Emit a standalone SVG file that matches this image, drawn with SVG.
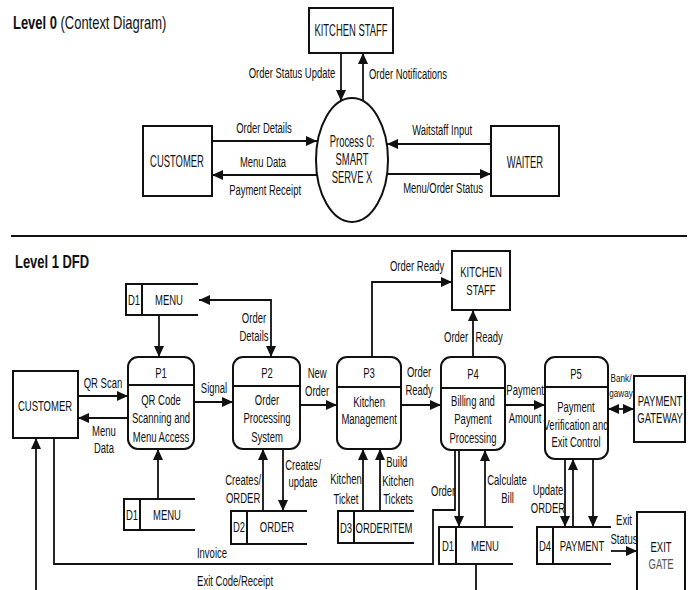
<svg xmlns="http://www.w3.org/2000/svg" width="691" height="590" viewBox="0 0 691 590">
<style>
  .box { fill: #fff; stroke: #111; stroke-width: 2; }
  .proc { fill: #fff; stroke: #111; stroke-width: 2; }
  .div { stroke: #111; stroke-width: 2; }
  .store { fill: none; stroke: #111; stroke-width: 2; }
  .c { fill: none; stroke: #111; stroke-width: 1.8; }
  .a { marker-end: url(#ah); }
  .aa { marker-start: url(#ah); marker-end: url(#ah); }
  text { font-family: "Liberation Sans", Arial, sans-serif; fill: #111; }
  .t { font-size: 15.5px; text-anchor: middle; transform-box: fill-box; transform-origin: center; transform: scaleX(0.613); }
  .l0 { font-size: 14.5px; text-anchor: middle; transform-box: fill-box; transform-origin: center; transform: scaleX(0.652); }
  .b0 { font-size: 16px; text-anchor: middle; transform-box: fill-box; transform-origin: center; transform: scaleX(0.59); }
  .s { font-size: 11.5px; text-anchor: middle; transform-box: fill-box; transform-origin: center; transform: scaleX(0.71); }
  .title { font-size: 18px; text-anchor: start; transform-box: fill-box; transform-origin: left center; transform: scaleX(0.72); }
</style>
<defs>
  <marker id="ah" markerUnits="userSpaceOnUse" markerWidth="12" markerHeight="10" refX="11" refY="5" orient="auto-start-reverse">
    <path d="M0,0 L11,5 L0,10 z" fill="#111"/>
  </marker>
</defs>
<rect width="691" height="590" fill="#fff"/>

<!-- ===== Level 0 ===== -->
<text class="title" x="13" y="29"><tspan font-weight="bold">Level 0</tspan> (Context Diagram)</text>

<g id="l0-kitchen">
  <rect class="box" x="309" y="8" width="84" height="45"/>
  <text class="b0" x="351" y="36">KITCHEN STAFF</text>
</g>
<g id="l0-customer">
  <rect class="box" x="143" y="126" width="69" height="70"/>
  <text class="b0" x="177" y="167">CUSTOMER</text>
</g>
<g id="l0-waiter">
  <rect class="box" x="491" y="126" width="68" height="70"/>
  <text class="b0" x="525" y="168">WAITER</text>
</g>
<g id="l0-process">
  <ellipse cx="352" cy="160" rx="36" ry="62" fill="#fff" stroke="#111" stroke-width="2"/>
  <text class="b0" x="352" y="147"><tspan x="352">Process 0:</tspan><tspan x="352" dy="18">SMART</tspan><tspan x="352" dy="18">SERVE X</tspan></text>
</g>

<g id="l0-connectors">
  <line class="c a" x1="341" y1="53" x2="341" y2="101"/>
  <line class="c a" x1="363" y1="101" x2="363" y2="53"/>
  <line class="c a" x1="212" y1="141" x2="317" y2="141"/>
  <line class="c a" x1="317" y1="175" x2="212" y2="175"/>
  <line class="c a" x1="491" y1="144" x2="387" y2="144"/>
  <line class="c a" x1="387" y1="174" x2="491" y2="174"/>
  <text class="l0" x="292" y="78">Order Status Update</text>
  <text class="l0" x="408" y="79">Order Notifications</text>
  <text class="l0" x="264" y="133">Order Details</text>
  <text class="l0" x="263" y="167">Menu Data</text>
  <text class="l0" x="265" y="195">Payment Receipt</text>
  <text class="l0" x="442" y="135">Waitstaff Input</text>
  <text class="l0" x="443" y="193">Menu/Order Status</text>
</g>

<line x1="11" y1="236" x2="687" y2="236" stroke="#111" stroke-width="2"/>

<!-- ===== Level 1 ===== -->
<text class="title" x="15" y="268" font-weight="bold">Level 1 DFD</text>

<g id="customer">
  <rect class="box" x="13" y="371" width="65" height="67"/>
  <text class="t" x="45" y="411">CUSTOMER</text>
</g>
<g id="kitchen">
  <rect class="box" x="452" y="251" width="58" height="59"/>
  <text class="t" x="481" y="277"><tspan x="481">KITCHEN</tspan><tspan x="481" dy="18">STAFF</tspan></text>
</g>
<g id="gateway">
  <rect class="box" x="634" y="376" width="51" height="66"/>
  <text class="t" x="660" y="406"><tspan x="660">PAYMENT</tspan><tspan x="660" dy="17.5">GATEWAY</tspan></text>
</g>
<g id="exitgate">
  <rect class="box" x="637" y="512" width="48" height="90"/>
  <text class="t" x="661" y="552"><tspan x="661">EXIT</tspan><tspan x="661" dy="17" fill="#555">GATE</tspan></text>
</g>

<g id="p1">
  <rect class="proc" x="128" y="357" width="66" height="92" rx="10"/>
  <line class="div" x1="128" y1="385" x2="194" y2="385"/>
  <text class="t" x="161" y="378">P1</text>
  <text class="t" x="161" y="405"><tspan x="161">QR Code</tspan><tspan x="161" dy="18.3">Scanning and</tspan><tspan x="161" dy="18.3">Menu Access</tspan></text>
</g>
<g id="p2">
  <rect class="proc" x="233" y="357" width="67" height="92" rx="10"/>
  <line class="div" x1="233" y1="386" x2="300" y2="386"/>
  <text class="t" x="267" y="378">P2</text>
  <text class="t" x="267" y="405"><tspan x="267">Order</tspan><tspan x="267" dy="18.3">Processing</tspan><tspan x="267" dy="18.3">System</tspan></text>
</g>
<g id="p3">
  <rect class="proc" x="337" y="357" width="64" height="92" rx="10"/>
  <line class="div" x1="337" y1="387" x2="401" y2="387"/>
  <text class="t" x="369" y="378">P3</text>
  <text class="t" x="369" y="407"><tspan x="369">Kitchen</tspan><tspan x="369" dy="17.5">Management</tspan></text>
</g>
<g id="p4">
  <rect class="proc" x="441" y="357" width="64" height="93" rx="10"/>
  <line class="div" x1="441" y1="388" x2="505" y2="388"/>
  <text class="t" x="473" y="379">P4</text>
  <text class="t" x="473" y="406"><tspan x="473">Billing and</tspan><tspan x="473" dy="18.3">Payment</tspan><tspan x="473" dy="18.3">Processing</tspan></text>
</g>
<g id="p5">
  <rect class="proc" x="545" y="357" width="63" height="102" rx="10"/>
  <line class="div" x1="545" y1="387" x2="608" y2="387"/>
  <text class="t" x="576" y="379">P5</text>
  <text class="t" x="576" y="412"><tspan x="576">Payment</tspan><tspan x="576" dy="17.7">Verification and</tspan><tspan x="576" dy="17.7">Exit Control</tspan></text>
</g>

<g id="d1-menu-top">
  <path class="store" d="M198,284 H126 V315 H198 M142,284 V315"/>
  <text class="t" x="134" y="305">D1</text>
  <text class="t" x="169" y="305">MENU</text>
</g>
<g id="d1-menu-left">
  <path class="store" d="M195,499 H124 V530 H195 M140,499 V530"/>
  <text class="t" x="132" y="520">D1</text>
  <text class="t" x="167" y="520">MENU</text>
</g>
<g id="d2-order">
  <path class="store" d="M307,511 H231 V544 H307 M247,511 V544"/>
  <text class="t" x="239" y="532">D2</text>
  <text class="t" x="277" y="532">ORDER</text>
</g>
<g id="d3-orderitem">
  <path class="store" d="M414,511 H338 V543 H414 M354,511 V543"/>
  <text class="t" x="346" y="533">D3</text>
  <text class="t" x="384" y="533">ORDERITEM</text>
</g>
<g id="d1-menu-right">
  <path class="store" d="M513,527 H439 V564 H513 M456,527 V564"/>
  <text class="t" x="448" y="551">D1</text>
  <text class="t" x="485" y="551">MENU</text>
</g>
<g id="d4-payment">
  <path class="store" d="M611,527 H537 V564 H611 M553,527 V564"/>
  <text class="t" x="545" y="551">D4</text>
  <text class="t" x="582" y="551">PAYMENT</text>
</g>

<g id="connectors">
  <line class="c a" x1="159" y1="315" x2="159" y2="357"/>
  <path class="c aa" d="M271,357 V300 H199"/>
  <line class="c a" x1="78" y1="396" x2="128" y2="396"/>
  <line class="c a" x1="128" y1="418" x2="78" y2="418"/>
  <line class="c a" x1="194" y1="402" x2="233" y2="402"/>
  <line class="c a" x1="300" y1="405" x2="337" y2="405"/>
  <line class="c a" x1="401" y1="405" x2="441" y2="405"/>
  <path class="c a" d="M372,357 V282 H452"/>
  <line class="c a" x1="473" y1="357" x2="473" y2="310"/>
  <line class="c a" x1="505" y1="405" x2="545" y2="405"/>
  <line class="c aa" x1="608" y1="409" x2="634" y2="409"/>
  <line class="c a" x1="158" y1="499" x2="158" y2="449"/>
  <line class="c a" x1="263" y1="511" x2="263" y2="449"/>
  <line class="c a" x1="283" y1="449" x2="283" y2="511"/>
  <line class="c a" x1="363" y1="511" x2="363" y2="449"/>
  <line class="c a" x1="380" y1="511" x2="380" y2="449"/>
  <line class="c a" x1="459" y1="450" x2="459" y2="527"/>
  <line class="c a" x1="485" y1="527" x2="485" y2="450"/>
  <path class="c" d="M455,450 V510 H433 V564 H54 V438"/>
  <path class="c a" d="M476,564 V593 H36 V438"/>
  <line class="c a" x1="565" y1="459" x2="565" y2="527"/>
  <line class="c a" x1="573" y1="527" x2="573" y2="459"/>
  <line class="c a" x1="593" y1="459" x2="593" y2="527"/>
  <line class="c a" x1="611" y1="551" x2="637" y2="551"/>

  <text class="t" x="254" y="323"><tspan x="254">Order</tspan><tspan x="254" dy="18.5">Details</tspan></text>
  <text class="t" x="417" y="271">Order Ready</text>
  <text class="t" x="456" y="342">Order</text>
  <text class="t" x="489" y="342">Ready</text>
  <text class="t" x="103" y="388">QR Scan</text>
  <text class="t" x="104" y="436"><tspan x="104">Menu</tspan><tspan x="104" dy="17.5">Data</tspan></text>
  <text class="t" x="214" y="393">Signal</text>
  <text class="t" x="317" y="378"><tspan x="317">New</tspan><tspan x="317" dy="18.5">Order</tspan></text>
  <text class="t" x="419" y="377"><tspan x="419">Order</tspan><tspan x="419" dy="18">Ready</tspan></text>
  <text class="t" x="525" y="395">Payment</text>
  <text class="t" x="525" y="423">Amount</text>
  <text class="s" x="621" y="382"><tspan x="621">Bank/</tspan><tspan x="621" dy="15.5">gaway</tspan></text>
  <text class="t" x="243" y="485"><tspan x="243">Creates/</tspan><tspan x="243" dy="17.7">ORDER</tspan></text>
  <text class="t" x="303" y="470"><tspan x="303">Creates/</tspan><tspan x="303" dy="17.3">update</tspan></text>
  <text class="t" x="346" y="484"><tspan x="346">Kitchen</tspan><tspan x="346" dy="20">Ticket</tspan></text>
  <text class="t" x="398" y="467"><tspan x="396">Build</tspan><tspan x="398" dy="18.7">Kitchen</tspan><tspan x="398" dy="18.3">Tickets</tspan></text>
  <text class="t" x="443" y="496">Order</text>
  <text class="t" x="507" y="485"><tspan x="507">Calculate</tspan><tspan x="508" dy="18.3">Bill</tspan></text>
  <text class="t" x="548" y="495"><tspan x="548">Update</tspan><tspan x="548" dy="17.7">ORDER</tspan></text>
  <text class="t" x="624" y="525"><tspan x="624">Exit</tspan><tspan x="624" dy="19">Status</tspan></text>
  <text class="t" x="212" y="558">Invoice</text>
  <text class="t" x="235" y="586">Exit Code/Receipt</text>
</g>
</svg>
